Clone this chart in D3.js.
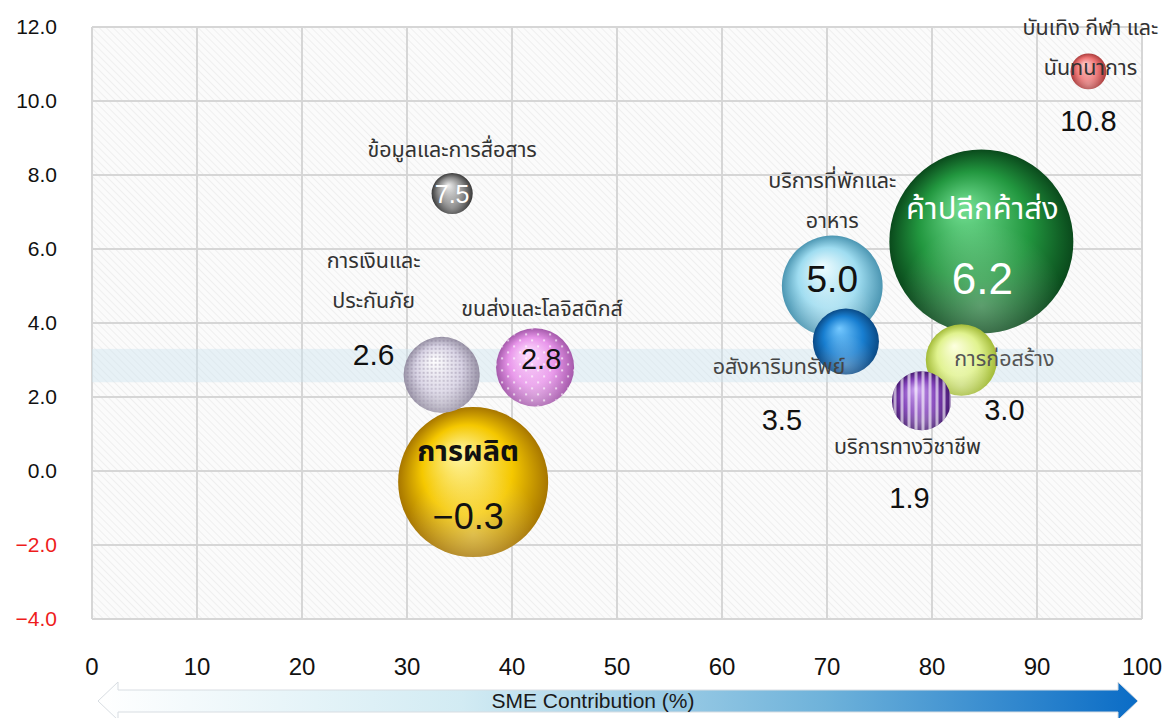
<!DOCTYPE html>
<html><head><meta charset="utf-8">
<script src="https://cdnjs.cloudflare.com/ajax/libs/d3/7.8.5/d3.min.js"></script>
<style>
html,body{margin:0;padding:0;background:#fff;}
svg{display:block;}
text{font-family:"Noto Sans Thai","Liberation Sans","DejaVu Sans",sans-serif;}
</style></head>
<body>
<svg id="chart" width="1171" height="718"></svg>
<script>
// ---- data ----
const sectors = ["ข้อมูลและการสื่อสาร","การเงินและประกันภัย","ขนส่งและโลจิสติกส์","การผลิต","บริการที่พักและอาหาร","อสังหาริมทรัพย์","ค้าปลีกค้าส่ง","การก่อสร้าง","บริการทางวิชาชีพ","บันเทิง กีฬา และนันทนาการ"];
const labelLines = [["ข้อมูลและการสื่อสาร"],["การเงินและ","ประกันภัย"],["ขนส่งและโลจิสติกส์"],["การผลิต"],["บริการที่พักและ","อาหาร"],["อสังหาริมทรัพย์"],["ค้าปลีกค้าส่ง"],["การก่อสร้าง"],["บริการทางวิชาชีพ"],["บันเทิง กีฬา และ","นันทนาการ"]];
const smeContribution = [34.3, 33.3, 42.2, 36.3, 70.5, 71.8, 84.7, 82.8, 79.0, 94.9];
const growth = [7.5, 2.6, 2.8, -0.3, 5.0, 3.5, 6.2, 3.0, 1.9, 10.8];
const bubbleSize = [5.0, 17.1, 18.0, 66.5, 30.0, 12.9, 100, 15.0, 10.3, 3.8];
const xTicks = [0,10,20,30,40,50,60,70,80,90,100];
const yTicks = [-4,-2,0,2,4,6,8,10,12];
const bandRange = [2.4, 3.3];
const axisTitle = "SME Contribution (%)";

// ---- styles / layout (not data) ----
const colors = [
  {light:"#f0f0f0", base:"#8e8e8e", dark:"#3a3a3a"},
  {light:"#ffffff", base:"#d8d3e4", dark:"#9993a6", pattern:"mesh"},
  {light:"#ffe0ff", base:"#e895ea", dark:"#a55aab", pattern:"dots"},
  {light:"#fff7a8", base:"#f5c800", dark:"#a77600"},
  {light:"#effcff", base:"#9edcf0", dark:"#4c96b2"},
  {light:"#74c8ff", base:"#187ed0", dark:"#0a4a86"},
  {light:"#74e094", base:"#22973f", dark:"#0a4a1c"},
  {light:"#fdffe0", base:"#e0f28e", dark:"#a3bb38"},
  {light:"#d0a8f4", base:"#8040b8", dark:"#471a72", pattern:"stripes"},
  {light:"#ffd0d0", base:"#ee7474", dark:"#ab3c3c"}
];
// label placement offsets relative to bubble center (visual centre of first line, value label centre)
const layout = [
  {lx:0, ly:-44, vx:0, vy:0, vSize:25, vColor:"#fff", lColor:"#333"},
  {lx:-68, ly:-114, vx:-68, vy:-21, vSize:30, lColor:"#333"},
  {lx:7, ly:-59, vx:6, vy:-9, vSize:29, lColor:"#333"},
  {lx:-5, ly:-31, vx:-5, vy:34, vSize:36, lColor:"#111", bold:true, lSize:29},
  {lx:0, ly:-105, vx:0, vy:-7, vSize:37, lColor:"#333"},
  {lx:-67, ly:25, vx:-64, vy:78, vSize:29, lColor:"#444"},
  {lx:1, ly:-33, vx:1, vy:37, vSize:44, vColor:"#fff", lColor:"#fff", lSize:31},
  {lx:43, ly:-1, vx:43, vy:50, vSize:29, lColor:"#555"},
  {lx:-14, ly:46, vx:-12, vy:97, vSize:29, lColor:"#333"},
  {lx:2, ly:-44, vx:0, vy:49, vSize:29, lColor:"#333"}
];

const svg = d3.select("#chart");
const x = d3.scaleLinear().domain([0,100]).range([92,1142]);
const y = d3.scaleLinear().domain([-4,12]).range([619,27]);
const r = d3.scaleSqrt().domain([0,100]).range([0,92]);

const defs = svg.append("defs");
const hatch = defs.append("pattern").attr("id","hatch").attr("patternUnits","userSpaceOnUse")
  .attr("width",5).attr("height",5).attr("patternTransform","rotate(-45)");
hatch.append("rect").attr("width",5).attr("height",5).attr("fill","#fbfbfb");
hatch.append("line").attr("x1",0).attr("y1",0).attr("x2",0).attr("y2",5).attr("stroke","#ececec").attr("stroke-width",1.6);
const mesh = defs.append("pattern").attr("id","mesh").attr("patternUnits","userSpaceOnUse").attr("width",4).attr("height",4);
mesh.append("circle").attr("cx",2).attr("cy",2).attr("r",1.1).attr("fill","#7a6f8c").attr("opacity",0.4);
const dots = defs.append("pattern").attr("id","dots").attr("patternUnits","userSpaceOnUse").attr("width",12).attr("height",12);
dots.append("circle").attr("cx",3).attr("cy",3).attr("r",1.1).attr("fill","#fff").attr("opacity",0.8);
dots.append("circle").attr("cx",9).attr("cy",9).attr("r",1.1).attr("fill","#fff").attr("opacity",0.8);
const stripes = defs.append("pattern").attr("id","stripes").attr("patternUnits","userSpaceOnUse").attr("width",7).attr("height",7);
stripes.append("rect").attr("x",0).attr("width",3).attr("height",7).attr("fill","#fff").attr("opacity",0.6);

colors.forEach((c,i)=>{
  const g = defs.append("radialGradient").attr("id","bg"+i).attr("cx","50%").attr("cy","50%").attr("r","50%").attr("fx","40%").attr("fy","30%");
  g.append("stop").attr("offset","0%").attr("stop-color",c.light);
  g.append("stop").attr("offset","60%").attr("stop-color",c.base);
  g.append("stop").attr("offset","100%").attr("stop-color",c.dark);
});
const shine = defs.append("radialGradient").attr("id","shine").attr("cx","50%").attr("cy","85%").attr("r","45%");
shine.append("stop").attr("offset","0%").attr("stop-color","#fff").attr("stop-opacity",0.3);
shine.append("stop").attr("offset","100%").attr("stop-color","#fff").attr("stop-opacity",0);

const ag = defs.append("linearGradient").attr("id","arrowGrad").attr("x1","0%").attr("x2","100%");
ag.append("stop").attr("offset","0%").attr("stop-color","#ffffff");
ag.append("stop").attr("offset","35%").attr("stop-color","#d2ebf3");
ag.append("stop").attr("offset","70%").attr("stop-color","#6eb2da");
ag.append("stop").attr("offset","100%").attr("stop-color","#0a6cc6");

svg.append("rect").attr("x",x(0)).attr("y",y(12)).attr("width",x(100)-x(0)).attr("height",y(-4)-y(12)).attr("fill","url(#hatch)");

svg.append("g").selectAll("line").data(xTicks).join("line")
  .attr("x1",d=>x(d)).attr("x2",d=>x(d)).attr("y1",y(12)).attr("y2",y(-4))
  .attr("stroke","#d6d6d6").attr("stroke-width",2);
svg.append("g").selectAll("line").data(yTicks).join("line")
  .attr("x1",x(0)).attr("x2",x(100)).attr("y1",d=>y(d)).attr("y2",d=>y(d))
  .attr("stroke","#d6d6d6").attr("stroke-width",2);

svg.append("rect").attr("x",x(0)).attr("width",x(100)-x(0))
  .attr("y",y(bandRange[1])).attr("height",y(bandRange[0])-y(bandRange[1]))
  .attr("fill","#cfe4ef").attr("opacity",0.45);

const fmt = d3.format(".1f");
svg.append("g").selectAll("text").data(yTicks).join("text")
  .attr("x",57).attr("y",d=>y(d)+7).attr("text-anchor","end")
  .attr("font-size",21).attr("fill",d=>d<0?"#ee1c1c":"#111")
  .style("font-family","'Liberation Sans',sans-serif")
  .text(d=>fmt(d));
svg.append("g").selectAll("text").data(xTicks).join("text")
  .attr("x",d=>x(d)).attr("y",675).attr("text-anchor","middle")
  .attr("font-size",24).attr("fill","#111")
  .style("font-family","'Liberation Sans Narrow','Liberation Sans',sans-serif")
  .text(d=>d);

const aL = 98, aR = 1138, aC = 701, hh = 19, bh = 11, hw = 20;
const arrowPath = `M${aL},${aC} L${aL+hw},${aC-hh} L${aL+hw},${aC-bh} L${aR-hw},${aC-bh} L${aR-hw},${aC-hh} L${aR},${aC} L${aR-hw},${aC+hh} L${aR-hw},${aC+bh} L${aL+hw},${aC+bh} L${aL+hw},${aC+hh} Z`;
svg.append("path").attr("d",arrowPath).attr("fill","url(#arrowGrad)").attr("stroke","#d8dde2").attr("stroke-width",1);
svg.append("text").attr("x",593).attr("y",708).attr("text-anchor","middle").attr("font-size",21).attr("fill","#1a1a1a")
  .style("font-family","'Liberation Sans Narrow','Liberation Sans',sans-serif")
  .text(axisTitle);

const idx = d3.range(sectors.length);
const drawOrder = [3,0,1,2,4,5,6,7,8,9];
const bub = svg.append("g").selectAll("g").data(drawOrder).join("g")
  .attr("transform",i=>`translate(${x(smeContribution[i])},${y(growth[i])})`);
bub.append("circle").attr("r",i=>r(bubbleSize[i])).attr("fill",i=>`url(#bg${i})`);
bub.filter(i=>colors[i].pattern).append("circle").attr("r",i=>r(bubbleSize[i])).attr("fill",i=>`url(#${colors[i].pattern})`);
bub.append("circle").attr("r",i=>r(bubbleSize[i])).attr("fill","url(#shine)");

const lab = svg.append("g").selectAll("g").data(idx).join("g")
  .attr("transform",i=>`translate(${x(smeContribution[i])},${y(growth[i])})`);
lab.each(function(i){
  const g = d3.select(this), L = layout[i];
  const ls = L.lSize||21.5;
  labelLines[i].forEach((t,k)=>{
    g.append("text").attr("x",L.lx).attr("y",L.ly+k*40+ls*0.33)
      .attr("text-anchor","middle").attr("font-size",ls)
      .attr("font-weight",L.bold?"bold":"normal")
      .attr("fill",L.lColor).text(t);
  });
  g.append("text").attr("x",L.vx).attr("y",L.vy+L.vSize*0.36)
    .attr("text-anchor","middle").attr("font-size",L.vSize)
    .attr("fill",L.vColor||"#111")
    .style("font-family","'Liberation Sans',sans-serif")
    .text(fmt(growth[i]));
});
</script>
</body></html>
